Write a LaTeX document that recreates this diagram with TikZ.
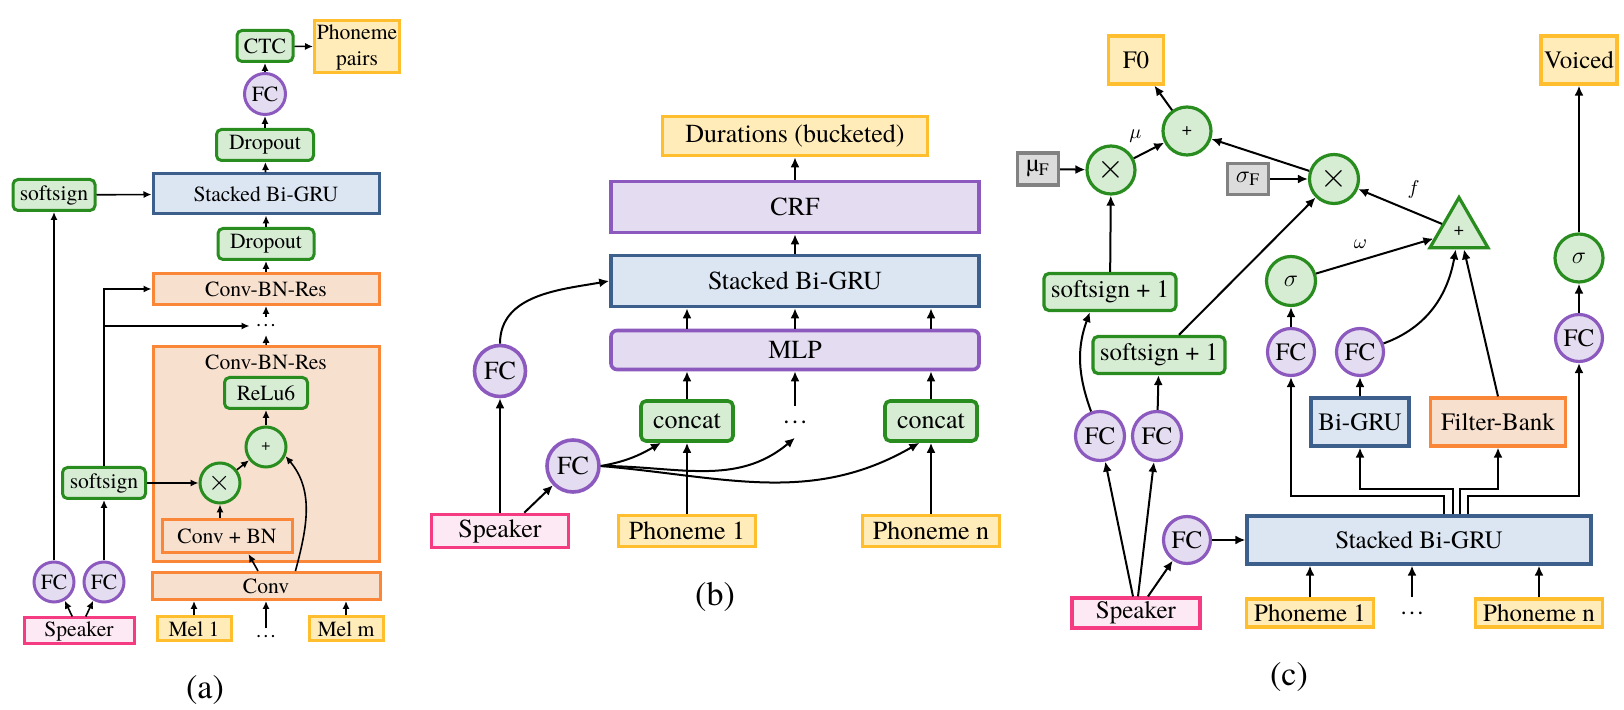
\documentclass[tikz,border=0pt]{standalone}
\usepackage{fontspec}
\setmainfont{texgyretermes-regular.otf}
\usetikzlibrary{arrows.meta,shapes.geometric}
\definecolor{grnD}{RGB}{40,140,30}
\definecolor{grnL}{RGB}{214,237,212}
\definecolor{purD}{RGB}{140,90,190}
\definecolor{purL}{RGB}{228,220,240}
\definecolor{bluD}{RGB}{60,95,140}
\definecolor{bluL}{RGB}{220,230,242}
\definecolor{orgD}{RGB}{250,135,55}
\definecolor{orgL}{RGB}{248,224,206}
\definecolor{ylwD}{RGB}{255,190,45}
\definecolor{ylwL}{RGB}{255,236,185}
\definecolor{pnkD}{RGB}{245,60,130}
\definecolor{pnkL}{RGB}{253,233,243}
\definecolor{gryD}{RGB}{130,130,130}
\definecolor{gryL}{RGB}{220,220,220}
\begin{document}
\begin{tikzpicture}[x=0.5pt, y=-0.5pt,
    wh/.style 2 args={minimum width=#1*0.5pt, minimum height=#2*0.5pt},
    sz/.style={minimum size=#1*0.5pt},
    box/.style={rectangle, draw, inner sep=0pt},
    op/.style={box, draw=grnD, fill=grnL, rounded corners=2.5pt},
    gop/.style={circle, draw=grnD, fill=grnL, inner sep=0pt},
    fc/.style={circle, draw=purD, fill=purL, inner sep=0pt},
    rnn/.style={box, draw=bluD, fill=bluL},
    cnv/.style={box, draw=orgD, fill=orgL},
    io/.style={box, draw=ylwD, fill=ylwL},
    spk/.style={box, draw=pnkD, fill=pnkL},
    cst/.style={box, draw=gryD, fill=gryL},
    pur/.style={box, draw=purD, fill=purL},
    txt/.style={inner sep=0pt},
    subcap/.style={font=\fontsize{17}{20}\selectfont}]
  \useasboundingbox (0,0) rectangle (1624,710);

  \begin{scope}[font=\fontsize{10.8}{13}\selectfont, line width=1.5pt]
    \node[cnv, wh={226}{215}] (a-block) at (266.5,454) {};
    \node (a-title) at (266,362) {Conv-BN-Res};
    \node[op, wh={56}{31}] (a-ctc) at (265,46) {CTC};
    \node[io, wh={85}{52}, align=center] (a-pairs) at (357,47) {Phoneme\\pairs};
    \node[fc, sz=41] (a-fc) at (265,94) {FC};
    \node[op, wh={97}{31}] (a-drop1) at (265,145) {Dropout};
    \node[rnn, wh={226}{40}] (a-gru) at (266,194) {Stacked Bi-GRU};
    \node[op, wh={82}{31}] (a-soft1) at (54,195) {softsign};
    \node[op, wh={96}{31}] (a-drop2) at (266,244) {Dropout};
    \node[cnv, wh={226}{31}] (a-res) at (266,289) {Conv-BN-Res};
    \node[txt, wh={30}{15}] (a-dots) at (266,326) {\dots};
    \node[op, wh={83}{31}] (a-relu) at (266,393) {ReLu6};
    \node[gop, sz=40, font=\fontsize{8}{9}\selectfont] (a-plus) at (266,447) {+};
    \node[gop, sz=40, font=\fontsize{14}{14}\selectfont] (a-times) at (220,483) {$\times$};
    \node[cnv, wh={130}{33}] (a-convbn) at (227,536) {Conv + BN};
    \node[op, wh={83}{31}] (a-soft2) at (104,483) {softsign};
    \node[fc, sz=40] (a-fc1) at (54,582) {FC};
    \node[fc, sz=40] (a-fc2) at (104,582) {FC};
    \node[spk, wh={110}{26}] (a-spk) at (79,631) {Speaker};
    \node[cnv, wh={228}{27}] (a-conv) at (266,586) {Conv};
    \node[io, wh={74}{24}] (a-mel1) at (194,629) {Mel 1};
    \node[txt, wh={20}{14}] (a-meld) at (266,637) {\dots};
    \node[io, wh={74}{24}] (a-melm) at (346,629) {Mel m};
    \node[subcap] (a-cap) at (205,690) {(a)};
  \end{scope}
  \begin{scope}[->, >={Latex[length=4pt,width=3.6pt]}, line width=0.8pt]
    \draw (a-fc) -- (a-ctc);
    \draw (a-ctc) -- (a-pairs);
    \draw (a-drop1) -- (a-fc);
    \draw (a-gru) -- (a-drop1);
    \draw (a-soft1) -- (a-gru);
    \draw (a-drop2) -- (a-gru);
    \draw (a-res) -- (a-drop2);
    \draw (a-dots) -- (a-res);
    \draw (a-block) -- (a-dots);
    \draw (a-plus) -- (a-relu);
    \draw (a-times) -- (a-plus);
    \draw (a-convbn.north -| a-times) -- (a-times);
    \draw (a-conv.118) -- (a-convbn.-40);
    \draw (a-conv.27) to[out=75, in=-50] (a-plus.-25);
    \draw (a-soft2) -- (a-times);
    \draw (a-fc1) -- (a-soft1);
    \draw (a-fc2) -- (a-soft2);
    \draw (a-spk.115) -- (a-fc1.-60);
    \draw (a-spk.65) -- (a-fc2.-120);
    \draw (a-soft2.north) |- (a-res.west);
    \draw (a-soft2.north) |- (a-dots.west);
    \draw (a-mel1) -- (a-mel1 |- a-conv.south);
    \draw (a-meld) -- (a-meld |- a-conv.south);
    \draw (a-melm) -- (a-melm |- a-conv.south);
  \end{scope}

  \begin{scope}[font=\fontsize{13}{15}\selectfont, line width=1.8pt]
    \node[io, wh={265}{39}] (b-dur) at (795,136) {Durations (bucketed)};
    \node[pur, wh={368}{51}] (b-crf) at (795,207) {CRF};
    \node[rnn, wh={368}{51}] (b-gru) at (795,281) {Stacked Bi-GRU};
    \node[pur, rounded corners=3pt, wh={368}{39}] (b-mlp) at (795,350) {MLP};
    \node[fc, sz=51] (b-fc1) at (500,371) {FC};
    \node[op, wh={92}{40}] (b-cat1) at (687,421) {concat};
    \node[txt, wh={20}{28}] (b-dots) at (795,422) {\dots};
    \node[op, wh={92}{40}] (b-cat2) at (931,421) {concat};
    \node[fc, sz=52] (b-fc2) at (573,466) {FC};
    \node[spk, wh={137}{33}] (b-spk) at (500,531) {Speaker};
    \node[io, wh={137}{31}] (b-ph1) at (687,531) {Phoneme 1};
    \node[io, wh={137}{31}] (b-phn) at (931,531) {Phoneme n};
    \node[subcap] (b-cap) at (715,597) {(b)};
  \end{scope}
  \begin{scope}[->, >={Latex[length=5pt,width=4.5pt]}, line width=1pt]
    \draw (b-crf) -- (b-dur);
    \draw (b-gru) -- (b-crf);
    \draw (b-cat1 |- b-mlp.north) -- (b-cat1 |- b-gru.south);
    \draw (b-mlp) -- (b-gru);
    \draw (b-cat2 |- b-mlp.north) -- (b-cat2 |- b-gru.south);
    \draw (b-cat1) -- (b-cat1 |- b-mlp.south);
    \draw (b-dots) -- (b-mlp);
    \draw (b-cat2) -- (b-cat2 |- b-mlp.south);
    \draw (b-ph1) -- (b-cat1);
    \draw (b-phn) -- (b-cat2);
    \draw (b-spk) -- (b-fc1);
    \draw (b-spk.37) -- (b-fc2);
    \draw (b-fc1.north) to[out=90, in=190] (b-gru.west);
    \draw (b-fc2.east) to[out=10, in=-150] (b-cat1.-140);
    \draw (b-fc2.east) to[out=0, in=-140] (b-dots.south);
    \draw (b-fc2.east) to[out=-5, in=-150] (b-cat2.-118);
  \end{scope}

  \begin{scope}[font=\fontsize{12.5}{15}\selectfont, line width=1.6pt]
    \node[io, wh={55}{48}] (c-f0) at (1136,60) {F0};
    \node[io, wh={76}{48}] (c-voiced) at (1579,60) {Voiced};
    \node[gop, sz=48, font=\fontsize{9}{10}\selectfont] (c-plus) at (1187,131) {+};
    \node[cst, wh={41}{32}] (c-muf) at (1038,169) {µ\textsubscript{F}};
    \node[gop, sz=48, font=\fontsize{17}{17}\selectfont] (c-times1) at (1111,170) {$\times$};
    \node[cst, wh={41}{31}] (c-sigf) at (1248,179) {$\sigma_{\mathrm{F}}$};
    \node[gop, sz=49, font=\fontsize{17}{17}\selectfont] (c-times2) at (1334,179) {$\times$};
    \node[regular polygon, regular polygon sides=3, draw=grnD, fill=grnL,
      inner sep=0pt, sz=67, font=\fontsize{9}{10}\selectfont] (c-tri) at (1459,231) {+};
    \node[gop, sz=49] (c-sig1) at (1291,281) {$\sigma$};
    \node[gop, sz=48] (c-sig2) at (1579,258) {$\sigma$};
    \node[op, wh={132}{37}] (c-soft1) at (1110,292) {softsign + 1};
    \node[op, wh={132}{37}] (c-soft2) at (1159,355) {softsign + 1};
    \node[fc, sz=47] (c-fc3) at (1291,352) {FC};
    \node[fc, sz=47] (c-fc4) at (1360,352) {FC};
    \node[fc, sz=47] (c-fc5) at (1579,338) {FC};
    \node[rnn, wh={98}{48}] (c-bigru) at (1360,422) {Bi-GRU};
    \node[cnv, wh={135}{48}] (c-filter) at (1498,422) {Filter-Bank};
    \node[fc, sz=49] (c-fc1) at (1100,436) {FC};
    \node[fc, sz=49] (c-fc2) at (1157,436) {FC};
    \node[fc, sz=47] (c-fc0) at (1187,540) {FC};
    \node[rnn, wh={344}{48}] (c-gru) at (1419,540) {Stacked Bi-GRU};
    \node[spk, wh={128}{30}] (c-spk) at (1136,613) {Speaker};
    \node[io, wh={127}{28}] (c-ph1) at (1310,613) {Phoneme 1};
    \node[txt, wh={20}{28}] (c-dots) at (1412,613) {\dots};
    \node[io, wh={127}{28}] (c-phn) at (1539,613) {Phoneme n};
    \node[subcap] (c-cap) at (1289,677) {(c)};
  \end{scope}
  \begin{scope}[->, >={Latex[length=5pt,width=4.5pt]}, line width=1pt, auto]
    \draw (c-plus) -- (c-f0);
    \draw (c-times1) to node {$\mu$} (c-plus);
    \draw (c-muf) -- (c-times1);
    \draw (c-sigf) -- (c-times2);
    \draw (c-times2) -- (c-plus);
    \draw (c-tri) to node[swap] {$f$} (c-times2);
    \draw (c-sig1) to node {$\omega$} (c-tri);
    \draw (c-soft1) -- (c-times1);
    \draw (c-soft2) -- (c-times2);
    \draw (c-fc3) -- (c-sig1);
    \draw (c-fc4.20) to[out=20, in=-100] (c-tri.-100);
    \draw (c-filter.north) -- (c-tri.-75);
    \draw (c-bigru) -- (c-fc4);
    \draw (c-fc5) -- (c-sig2);
    \draw (c-sig2) -- (c-voiced);
    \draw (c-fc0) -- (c-gru);
    \draw ([xshift=-1.5pt]c-spk.north) -- (c-fc1);
    \draw ([xshift=1pt]c-spk.north) -- (c-fc2);
    \draw ([xshift=6pt]c-spk.north) -- (c-fc0);
    \draw (c-fc1.110) to[out=110, in=-110] (c-soft1.-135);
    \draw (c-fc2) -- (c-soft2);
    \draw (c-ph1) -- (c-ph1 |- c-gru.south);
    \draw (c-dots) -- (c-dots |- c-gru.south);
    \draw (c-phn) -- (c-phn |- c-gru.south);
    \draw ([xshift=12.5pt]c-gru.north) -- ++(0,-18) -| (c-fc3);
    \draw ([xshift=17pt]c-gru.north) -- ++(0,-25) -| (c-bigru);
    \draw ([xshift=20.5pt]c-gru.north) -- ++(0,-25) -| (c-filter);
    \draw ([xshift=24.5pt]c-gru.north) -- ++(0,-18) -| (c-fc5);
  \end{scope}
\end{tikzpicture}
\end{document}
